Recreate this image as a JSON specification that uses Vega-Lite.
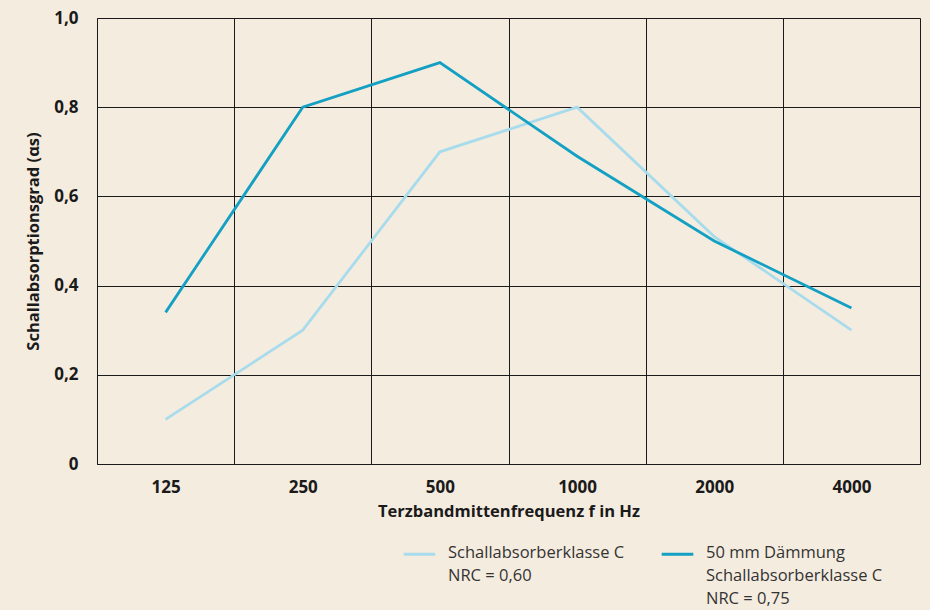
{
  "$schema": "https://vega.github.io/schema/vega-lite/v6.json",
  "width": 823,
  "height": 446,
  "autosize": "none",
  "padding": {"left": 97, "top": 18, "right": 10, "bottom": 146},
  "background": "#f5ece0",
  "config": {
    "view": {"stroke": null},
    "font": "Open Sans",
    "axis": {"domainColor": "#1a1a1a", "gridColor": "#1a1a1a", "gridOpacity": 1, "gridWidth": 1, "ticks": false, "labelColor": "#1a1a1a", "titleColor": "#1a1a1a"}
  },
  "data": {
    "values": [
      {"f": "125", "a": 0.10, "s": "Schallabsorberklasse C|NRC = 0,60"},
      {"f": "250", "a": 0.30, "s": "Schallabsorberklasse C|NRC = 0,60"},
      {"f": "500", "a": 0.70, "s": "Schallabsorberklasse C|NRC = 0,60"},
      {"f": "1000", "a": 0.80, "s": "Schallabsorberklasse C|NRC = 0,60"},
      {"f": "2000", "a": 0.51, "s": "Schallabsorberklasse C|NRC = 0,60"},
      {"f": "4000", "a": 0.30, "s": "Schallabsorberklasse C|NRC = 0,60"},
      {"f": "125", "a": 0.34, "s": "50 mm Dämmung|Schallabsorberklasse C|NRC = 0,75"},
      {"f": "250", "a": 0.80, "s": "50 mm Dämmung|Schallabsorberklasse C|NRC = 0,75"},
      {"f": "500", "a": 0.90, "s": "50 mm Dämmung|Schallabsorberklasse C|NRC = 0,75"},
      {"f": "1000", "a": 0.69, "s": "50 mm Dämmung|Schallabsorberklasse C|NRC = 0,75"},
      {"f": "2000", "a": 0.50, "s": "50 mm Dämmung|Schallabsorberklasse C|NRC = 0,75"},
      {"f": "4000", "a": 0.35, "s": "50 mm Dämmung|Schallabsorberklasse C|NRC = 0,75"}
    ]
  },
  "mark": {"type": "line", "strokeWidth": 2.8},
  "encoding": {
    "x": {
      "field": "f", "type": "ordinal",
      "sort": ["125", "250", "500", "1000", "2000", "4000"],
      "scale": {"paddingInner": 0, "paddingOuter": 0},
      "axis": {"grid": true, "tickBand": "extent", "labelAngle": 0, "labelFontSize": 17, "labelFontWeight": "bold", "labelPadding": 15, "title": "Terzbandmittenfrequenz f in Hz", "titleFontSize": 16.5, "titleFontWeight": "bold", "titlePadding": 8}
    },
    "y": {
      "field": "a", "type": "quantitative",
      "scale": {"domain": [0, 1]},
      "axis": {"values": [0, 0.2, 0.4, 0.6, 0.8, 1.0], "grid": true, "labelExpr": "datum.value == 0 ? '0' : replace(format(datum.value, '.1f'), '.', ',')", "labelFontSize": 17, "labelFontWeight": "bold", "labelPadding": 19, "title": "Schallabsorptionsgrad (αs)", "titleFontSize": 16.5, "titleFontWeight": "bold", "titlePadding": 12}
    },
    "color": {
      "field": "s", "type": "nominal",
      "sort": ["Schallabsorberklasse C|NRC = 0,60", "50 mm Dämmung|Schallabsorberklasse C|NRC = 0,75"],
      "scale": {"range": ["#a8dcec", "#13a0c3"]},
      "legend": {
        "title": null, "orient": "none", "legendX": 305, "legendY": 527, "direction": "horizontal", "columns": 2, "columnPadding": 30,
        "symbolType": "stroke", "symbolSize": 1000, "symbolStrokeWidth": 3, "symbolOffset": 0,
        "labelExpr": "length(split(datum.label, '|')) < 3 ? split(datum.label + '| ', '|') : split(datum.label, '|')",
        "labelFontSize": 16.5, "labelColor": "#333333", "labelLimit": 300, "labelOffset": 11, "labelBaseline": "top",
        "encode": {
          "symbols": {"update": {"y": {"value": 9}}},
          "labels": {"update": {"lineHeight": {"value": 23}, "baseline": {"value": "top"}, "y": {"value": 0}}}
        }
      }
    }
  }
}
